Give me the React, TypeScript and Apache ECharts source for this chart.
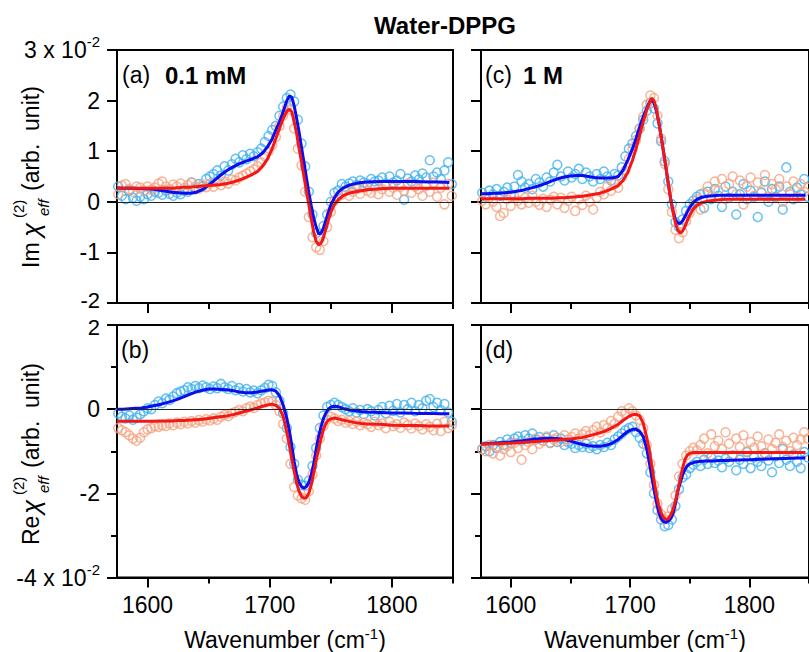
import React, { useEffect, useRef } from "react";
import * as echarts from "echarts";

const FONT = '"Liberation Sans", Arial, Helvetica, sans-serif';

// ---------- data ----------
const TITLE = "Water-DPPG";
const X_MAJOR = [1600, 1700, 1800];
const X_MINOR = [1650, 1750, 1850];

const WN_S = [
  1576, 1579, 1582, 1585, 1588, 1591, 1594, 1597, 1600, 1603,
  1606, 1609, 1612, 1615, 1618, 1621, 1624, 1627, 1630, 1633,
  1636, 1639, 1642, 1645, 1648, 1651, 1654, 1657, 1660, 1663,
  1666, 1669, 1672, 1675, 1678, 1681, 1684, 1687, 1690, 1693,
  1696, 1699, 1702, 1705, 1708, 1711, 1714, 1717, 1720, 1723,
  1726, 1729, 1732, 1735, 1738, 1741, 1744, 1747, 1750, 1753,
  1756, 1759, 1762, 1765, 1768, 1771, 1774, 1777, 1780, 1783,
  1786, 1789, 1792, 1795, 1798, 1801, 1804, 1807, 1810, 1813,
  1816, 1819, 1822, 1825, 1828, 1831, 1834, 1837, 1840, 1843,
  1846, 1849,
];

const WN_L = [
  1575, 1580, 1585, 1590, 1595, 1600, 1605, 1610, 1615, 1620,
  1625, 1630, 1635, 1640, 1645, 1650, 1655, 1660, 1665, 1670,
  1675, 1680, 1685, 1690, 1694, 1698, 1702, 1705, 1708, 1711,
  1714, 1716, 1718, 1720, 1722, 1724, 1726, 1728, 1730, 1732,
  1734, 1736, 1738, 1740, 1742, 1744, 1746, 1748, 1750, 1753,
  1756, 1760, 1765, 1770, 1775, 1780, 1790, 1800, 1810, 1820,
  1830, 1840, 1847,
];

// (a) Im, 0.1 mM
const A_BLUE_PTS = [
  0.30, 0.12, 0.05, 0.22, 0.08, 0.02, 0.10, 0.05, 0.15, 0.12,
  0.20, 0.18, 0.14, 0.22, 0.16, 0.12, 0.18, 0.15, 0.22, 0.20,
  0.38, 0.25, 0.35, 0.30, 0.45, 0.50, 0.55, 0.62, 0.52, 0.70,
  0.62, 0.74, 0.85, 0.78, 0.92, 0.84, 0.95, 0.90, 0.98, 1.05,
  1.18, 1.30, 1.42, 1.50, 1.70, 1.88, 2.05, 2.12, 1.98, 1.62,
  1.15, 0.70, 0.20, -0.25, -0.62, -0.72, -0.48, -0.25, 0.00, 0.18,
  0.22, 0.35, 0.30, 0.36, 0.40, 0.33, 0.42, 0.38, 0.35, 0.45,
  0.40, 0.42, 0.48, 0.36, 0.50, 0.38, 0.42, 0.55, 0.04, 0.46,
  0.40, 0.52, 0.44, 0.56, 0.48, 0.82, 0.50, 0.58, 0.45, 0.62,
  0.78, 0.35,
];
const A_RED_PTS = [
  0.15, 0.32, 0.35, 0.25, 0.20, 0.30, 0.28, 0.22, 0.30, 0.24,
  0.28, 0.36, 0.40, 0.30, 0.25, 0.34, 0.30, 0.36, 0.27, 0.33,
  0.38, 0.30, 0.26, 0.34, 0.29, 0.36, 0.30, 0.38, 0.33, 0.40,
  0.36, 0.44, 0.42, 0.48, 0.52, 0.56, 0.60, 0.64, 0.70, 0.78,
  0.90, 1.00, 1.12, 1.28, 1.50, 1.70, 1.86, 1.82, 1.45, 1.05,
  0.72, 0.20, -0.30, -0.70, -0.90, -0.95, -0.78, -0.50, -0.20, 0.02,
  0.10, 0.14, 0.22, 0.12, 0.20, 0.25, 0.16, 0.28, 0.22, 0.18,
  0.30, 0.15, 0.25, 0.32, 0.20, 0.28, 0.14, 0.30, 0.22, 0.36,
  0.18, 0.30, 0.25, 0.12, 0.32, 0.20, 0.38, 0.10, 0.28, -0.05,
  0.35, 0.12,
];
const A_BLUE_FIT = [
  0.28, 0.27, 0.27, 0.27, 0.26, 0.26, 0.25, 0.23, 0.21, 0.19,
  0.18, 0.17, 0.17, 0.19, 0.24, 0.33, 0.43, 0.53, 0.62, 0.69,
  0.75, 0.80, 0.84, 0.89, 0.96, 1.08, 1.24, 1.42, 1.58, 1.78,
  2.00, 2.09, 2.07, 1.90, 1.65, 1.38, 1.08, 0.78, 0.48, 0.18,
  -0.08, -0.32, -0.50, -0.63, -0.62, -0.52, -0.36, -0.21, -0.06, 0.08,
  0.19, 0.27, 0.33, 0.36, 0.38, 0.39, 0.40, 0.40, 0.40, 0.40,
  0.39, 0.39, 0.38,
];
const A_RED_FIT = [
  0.27, 0.27, 0.27, 0.27, 0.27, 0.27, 0.27, 0.27, 0.27, 0.27,
  0.28, 0.29, 0.29, 0.30, 0.31, 0.32, 0.33, 0.34, 0.36, 0.39,
  0.43, 0.48, 0.53, 0.60, 0.70, 0.84, 1.05, 1.25, 1.45, 1.64,
  1.79, 1.83, 1.78, 1.58, 1.35, 1.06, 0.79, 0.50, 0.22, -0.06,
  -0.34, -0.60, -0.78, -0.85, -0.82, -0.70, -0.53, -0.36, -0.21, -0.05,
  0.04, 0.12, 0.17, 0.20, 0.22, 0.24, 0.26, 0.27, 0.27, 0.27,
  0.27, 0.27, 0.27,
];

// (b) Re, 0.1 mM
const B_BLUE_PTS = [
  -0.10, -0.18, -0.22, -0.15, -0.25, -0.20, -0.12, -0.05, 0.02, 0.00,
  0.10, 0.18, 0.14, 0.25, 0.22, 0.30, 0.38, 0.42, 0.45, 0.52,
  0.48, 0.55, 0.50, 0.56, 0.52, 0.48, 0.54, 0.50, 0.60, 0.52,
  0.48, 0.55, 0.45, 0.50, 0.42, 0.48, 0.40, 0.44, 0.38, 0.45,
  0.50, 0.58, 0.55, 0.40, 0.20, -0.10, -0.45, -0.90, -1.30, -1.68,
  -1.80, -1.82, -1.70, -1.35, -0.92, -0.45, -0.15, 0.05, 0.10, 0.15,
  0.10, 0.05, 0.00, -0.05, 0.02, -0.08, -0.02, -0.12, 0.00, -0.05,
  -0.15, -0.02, 0.05, -0.10, 0.08, -0.04, 0.12, -0.08, 0.10, 0.00,
  0.15, -0.05, 0.10, 0.02, 0.20, 0.24, 0.05, 0.15, -0.02, 0.12,
  -0.08, -0.30,
];
const B_RED_PTS = [
  -0.45, -0.50, -0.55, -0.62, -0.70, -0.75, -0.68, -0.55, -0.48, -0.45,
  -0.40, -0.42, -0.38, -0.40, -0.34, -0.38, -0.32, -0.36, -0.30, -0.34,
  -0.28, -0.32, -0.26, -0.30, -0.24, -0.27, -0.22, -0.25, -0.18, -0.14,
  -0.17, -0.10, -0.06, -0.02, -0.05, 0.02, 0.06, 0.03, 0.10, 0.14,
  0.16, 0.20, 0.18, 0.10, -0.05, -0.35, -0.70, -1.30, -1.85, -2.05,
  -2.12, -2.15, -1.95, -1.55, -1.10, -0.70, -0.40, -0.25, -0.18, -0.22,
  -0.28, -0.25, -0.32, -0.28, -0.35, -0.30, -0.38, -0.32, -0.36, -0.42,
  -0.30, -0.38, -0.34, -0.45, -0.30, -0.40, -0.36, -0.44, -0.32, -0.38,
  -0.46, -0.34, -0.40, -0.48, -0.36, -0.42, -0.50, -0.35, -0.52, -0.30,
  -0.45, -0.38,
];
const B_BLUE_FIT = [
  0.00, 0.00, 0.01, 0.02, 0.03, 0.05, 0.08, 0.11, 0.15, 0.19,
  0.24, 0.30, 0.36, 0.41, 0.45, 0.48, 0.48, 0.47, 0.46, 0.44,
  0.41, 0.39, 0.39, 0.41, 0.43, 0.45, 0.46, 0.43, 0.32, 0.10,
  -0.22, -0.50, -0.85, -1.25, -1.55, -1.74, -1.84, -1.88, -1.84, -1.74,
  -1.55, -1.30, -0.95, -0.65, -0.42, -0.22, -0.09, 0.00, 0.05, 0.07,
  0.06, 0.02, -0.02, -0.04, -0.06, -0.07, -0.08, -0.09, -0.09, -0.10,
  -0.10, -0.11, -0.11,
];
const B_RED_FIT = [
  -0.29, -0.29, -0.29, -0.29, -0.29, -0.29, -0.29, -0.28, -0.28, -0.28,
  -0.27, -0.27, -0.26, -0.25, -0.24, -0.22, -0.20, -0.18, -0.16, -0.13,
  -0.09, -0.05, -0.01, 0.03, 0.07, 0.10, 0.12, 0.09, 0.02, -0.17,
  -0.55, -0.85, -1.18, -1.48, -1.75, -1.95, -2.07, -2.12, -2.10, -2.00,
  -1.80, -1.52, -1.22, -0.95, -0.70, -0.48, -0.34, -0.26, -0.23, -0.21,
  -0.23, -0.26, -0.29, -0.32, -0.34, -0.35, -0.36, -0.38, -0.39, -0.39,
  -0.40, -0.40, -0.40,
];

// (c) Im, 1 M
const C_BLUE_PTS = [
  0.18, 0.10, 0.22, 0.15, 0.25, 0.12, 0.20, 0.28, 0.15, 0.30,
  0.53, 0.40, 0.28, 0.35, 0.25, 0.45, 0.38, 0.30, 0.48, 0.40,
  0.58, 0.73, 0.50, 0.42, 0.60, 0.48, 0.55, 0.65, 0.45, 0.58,
  0.50, 0.40, 0.55, 0.45, 0.60, 0.50, 0.42, 0.55, 0.52, 0.68,
  0.90, 1.05, 1.15, 1.30, 1.45, 1.62, 1.80, 1.95, 1.85, 1.55,
  1.20, 0.80, 0.40, -0.05, -0.40, -0.50, -0.35, -0.18, -0.05, 0.02,
  0.10, 0.15, -0.12, 0.20, 0.05, 0.25, 0.12, -0.10, 0.30, 0.08,
  0.20, -0.25, 0.15, 0.35, 0.05, 0.22, 0.10, -0.30, 0.18, 0.40,
  0.00, 0.25, 0.10, 0.30, -0.15, 0.68, 0.20, 0.05, 0.28, 0.15,
  0.45, 0.10,
];
const C_RED_PTS = [
  0.02, -0.05, 0.08, 0.00, -0.10, -0.28, -0.22, 0.05, -0.08, 0.10,
  0.02, -0.05, 0.08, -0.02, 0.12, 0.00, -0.06, 0.06, -0.10, 0.04,
  0.10, -0.05, 0.08, -0.12, 0.02, 0.10, -0.18, 0.05, -0.06, 0.12,
  0.00, -0.15, 0.08, 0.20, 0.15, 0.30, 0.22, 0.35, 0.28, 0.48,
  0.62, 0.85, 1.05, 1.22, 1.45, 1.68, 1.92, 2.10, 2.05, 1.70,
  1.25, 0.75, 0.25, -0.20, -0.55, -0.72, -0.60, -0.38, -0.22, -0.08,
  0.05, -0.15, 0.18, 0.30, 0.10, 0.40, 0.22, 0.45, 0.05, 0.35,
  0.50, 0.15, 0.42, -0.05, 0.30, 0.48, 0.12, 0.38, 0.20, 0.53,
  0.10, 0.35, 0.25, 0.45, 0.00, 0.30, 0.15, 0.40, 0.08, 0.35,
  0.20, 0.28,
];
const C_BLUE_FIT = [
  0.16, 0.16, 0.17, 0.17, 0.18, 0.19, 0.21, 0.23, 0.26, 0.29,
  0.33, 0.37, 0.42, 0.46, 0.49, 0.51, 0.52, 0.52, 0.50, 0.48,
  0.47, 0.47, 0.47, 0.50, 0.62, 0.82, 1.05, 1.25, 1.48, 1.68,
  1.85, 1.96, 2.01, 1.96, 1.80, 1.58, 1.30, 1.00, 0.68, 0.36,
  0.06, -0.18, -0.35, -0.42, -0.43, -0.38, -0.29, -0.20, -0.11, -0.01,
  0.05, 0.09, 0.11, 0.12, 0.13, 0.13, 0.13, 0.13, 0.13, 0.13,
  0.13, 0.13, 0.13,
];
const C_RED_FIT = [
  0.06, 0.06, 0.06, 0.06, 0.06, 0.06, 0.06, 0.06, 0.07, 0.07,
  0.07, 0.07, 0.07, 0.08, 0.08, 0.09, 0.10, 0.11, 0.13, 0.15,
  0.17, 0.21, 0.26, 0.32, 0.42, 0.58, 0.82, 1.05, 1.32, 1.58,
  1.82, 1.95, 2.05, 2.00, 1.84, 1.58, 1.29, 0.99, 0.69, 0.37,
  0.06, -0.20, -0.42, -0.56, -0.62, -0.58, -0.49, -0.37, -0.27, -0.14,
  -0.07, -0.02, 0.01, 0.03, 0.04, 0.05, 0.05, 0.05, 0.05, 0.05,
  0.05, 0.05, 0.05,
];

// (d) Re, 1 M
const D_BLUE_PTS = [
  -0.95, -0.88, -1.00, -0.85, -0.92, -0.78, -0.85, -0.72, -0.80, -0.70,
  -0.65, -0.75, -0.62, -0.70, -0.58, -0.72, -0.66, -0.75, -0.68, -0.80,
  -0.62, -0.78, -0.70, -0.85, -0.78, -0.82, -0.92, -0.85, -0.90, -0.82,
  -0.92, -0.88, -0.95, -0.85, -0.90, -0.80, -0.85, -0.72, -0.65, -0.58,
  -0.50, -0.45, -0.42, -0.55, -0.68, -0.82, -1.05, -1.50, -2.00, -2.40,
  -2.62, -2.78, -2.75, -2.62, -2.30, -1.90, -1.62, -1.55, -1.40, -1.32,
  -1.25, -1.35, -1.20, -1.30, -1.15, -1.28, -1.22, -1.38, -1.18, -1.25,
  -1.10, -1.45, -1.20, -1.30, -1.02, -1.40, -1.15, -1.25, -1.35, -1.05,
  -1.22, -1.50, -1.12, -1.28, -0.95, -1.20, -1.35, -1.08, -1.25, -1.40,
  -1.02, -1.15,
];
const D_RED_PTS = [
  -0.95, -1.00, -0.85, -1.05, -0.90, -1.10, -0.95, -0.88, -1.02, -0.80,
  -0.92, -1.20, -0.85, -0.78, -0.95, -0.70, -0.82, -0.75, -0.65, -0.80,
  -0.72, -0.68, -0.78, -0.62, -0.72, -0.66, -0.58, -0.70, -0.60, -0.52,
  -0.62, -0.50, -0.42, -0.55, -0.38, -0.45, -0.28, -0.35, -0.18, -0.05,
  -0.10, 0.02, -0.05, -0.15, -0.25, -0.45, -0.85, -1.30, -1.80, -2.25,
  -2.50, -2.62, -2.55, -2.38, -2.05, -1.60, -1.30, -1.10, -1.00, -0.92,
  -0.98, -0.85, -0.70, -1.05, -0.60, -0.88, -0.75, -0.95, -0.55, -0.82,
  -1.10, -0.70, -0.90, -0.62, -1.00, -0.78, -0.92, -0.65, -0.88, -1.05,
  -0.72, -0.95, -0.80, -0.60, -0.90, -0.75, -1.00, -0.68, -0.85, -0.72,
  -0.55, -0.70,
];
const D_BLUE_FIT = [
  -0.83, -0.82, -0.81, -0.80, -0.79, -0.78, -0.76, -0.75, -0.73, -0.71,
  -0.70, -0.69, -0.69, -0.70, -0.72, -0.76, -0.80, -0.84, -0.87, -0.88,
  -0.88, -0.86, -0.81, -0.72, -0.62, -0.53, -0.48, -0.48, -0.53, -0.65,
  -0.95, -1.25, -1.58, -1.90, -2.20, -2.45, -2.60, -2.67, -2.69, -2.66,
  -2.60, -2.48, -2.25, -1.95, -1.75, -1.56, -1.43, -1.35, -1.30, -1.27,
  -1.25, -1.24, -1.23, -1.23, -1.22, -1.22, -1.21, -1.20, -1.19, -1.18,
  -1.17, -1.16, -1.16,
];
const D_RED_FIT = [
  -0.83, -0.83, -0.82, -0.82, -0.81, -0.81, -0.80, -0.79, -0.78, -0.77,
  -0.76, -0.75, -0.74, -0.73, -0.72, -0.71, -0.69, -0.67, -0.64, -0.60,
  -0.56, -0.51, -0.44, -0.36, -0.27, -0.19, -0.13, -0.12, -0.16, -0.33,
  -0.68, -0.95, -1.30, -1.68, -2.02, -2.28, -2.46, -2.57, -2.62, -2.60,
  -2.52, -2.38, -2.18, -1.93, -1.66, -1.40, -1.20, -1.09, -1.05, -1.03,
  -1.03, -1.03, -1.03, -1.03, -1.03, -1.03, -1.03, -1.03, -1.03, -1.03,
  -1.03, -1.03, -1.03,
];

// ---------- styling ----------
const C_LBLUE = "#40b2ef";
const C_SALMON = "#f6a27f";
const C_BLUE = "#0c0cf0";
const C_RED = "#f51616";
const AX = { color: "#000", width: 2 };

const GRIDS = [
  { left: 117, top: 50, width: 336, height: 253 },
  { left: 117, top: 325, width: 336, height: 253 },
  { left: 481, top: 50, width: 336, height: 253 },
  { left: 481, top: 325, width: 336, height: 253 },
];

const tickRich = {
  m: { fontSize: 23, fontFamily: FONT, color: "#000", lineHeight: 32 },
  s: { fontSize: 15, fontFamily: FONT, color: "#000", lineHeight: 15, verticalAlign: "top" },
  up: { fontSize: 22, fontFamily: FONT, color: "#000", lineHeight: 17, padding: [0, 0, 5, 0] },
  dn: { fontSize: 22, fontFamily: FONT, color: "#000", lineHeight: 17, padding: [5, 0, 0, 0] },
};
const nameRich = {
  m: { fontSize: 23, fontFamily: FONT, color: "#000", lineHeight: 28 },
  s: { fontSize: 15, fontFamily: FONT, color: "#000", lineHeight: 15, verticalAlign: "top" },
};

function xAxesFor(gi: number, bottomRow: boolean) {
  return [
    {
      type: "value",
      gridIndex: gi,
      min: 1575,
      max: 1850,
      position: "bottom",
      offset: 0,
      axisLine: { show: true, onZero: false, lineStyle: AX },
      axisTick: { show: true, customValues: X_MAJOR, length: 10, lineStyle: AX },
      axisLabel: {
        show: bottomRow,
        customValues: X_MAJOR,
        margin: 16,
        color: "#000",
        fontSize: 23,
        fontFamily: FONT,
        formatter: (v: number) => String(v),
      },
      splitLine: { show: false },
      name: bottomRow ? "{m|Wavenumber (cm}{s|-1}{m|)}" : "",
      nameLocation: "middle",
      nameGap: 48,
      nameTextStyle: { rich: nameRich, fontSize: 23, fontFamily: FONT, color: "#000" },
    },
    {
      type: "value",
      gridIndex: gi,
      min: 1575,
      max: 1850,
      position: "bottom",
      offset: 0,
      axisLine: { show: false, onZero: false },
      axisTick: { show: true, customValues: X_MINOR, length: 6, lineStyle: AX },
      axisLabel: { show: false },
      splitLine: { show: false },
    },
  ];
}

function yAxisFor(gi: number, isIm: boolean, showLabels: boolean) {
  const base: any = {
    type: "value",
    gridIndex: gi,
    position: "left",
    axisLine: { show: true, onZero: false, lineStyle: AX },
    axisTick: { show: true, length: 10, lineStyle: AX },
    splitLine: { show: false },
    axisLabel: {
      show: showLabels,
      margin: 17,
      color: "#000",
      fontSize: 23,
      lineHeight: 17,
      fontFamily: FONT,
      rich: tickRich,
      formatter: (v: number) => {
        if (isIm && v === 3) return "{m|3 x 10}{s|-2}";
        if (isIm && v === -2) return "{up|-2}";
        if (!isIm && v === 2) return "{dn|2}";
        if (!isIm && v === -4) return "{m|-4 x 10}{s|-2}";
        return String(v);
      },
    },
  };
  if (isIm) {
    base.min = -2;
    base.max = 3;
    base.interval = 1;
  } else {
    base.min = -4;
    base.max = 2;
    base.interval = 2;
    base.minorTick = { show: true, splitNumber: 2, length: 6, lineStyle: AX };
    base.minorSplitLine = { show: false };
  }
  return base;
}

const zip = (xs: number[], ys: number[]) => xs.map((x, i) => [x, ys[i]]);

function panelSeries(gi: number, bluePts: number[], redPts: number[], blueFit: number[], redFit: number[]) {
  const xi = gi * 2;
  const common = { xAxisIndex: xi, yAxisIndex: gi, silent: true };
  const scatter = (data: number[], color: string) => ({
    ...common,
    type: "scatter",
    data: zip(WN_S, data),
    symbol: "circle",
    symbolSize: 9,
    itemStyle: { color: "rgba(0,0,0,0)", borderColor: color, borderWidth: 1.5 },
  });
  const line = (data: number[], color: string) => ({
    ...common,
    type: "line",
    data: zip(WN_L, data),
    showSymbol: false,
    symbol: "none",
    lineStyle: { width: 3, color },
    itemStyle: { color },
  });
  return [
    {
      ...scatter(bluePts, C_LBLUE),
      markLine: {
        silent: true,
        symbol: ["none", "none"],
        label: { show: false },
        lineStyle: { color: "#222", width: 1, type: "solid" },
        data: [{ yAxis: 0 }],
      },
    },
    scatter(redPts, C_SALMON),
    line(blueFit, C_BLUE),
    line(redFit, C_RED),
  ];
}

function txt(text: string, x: number, y: number, size: number, extra: any = {}) {
  return {
    type: "text",
    x,
    y,
    style: {
      text,
      fontSize: size,
      fontFamily: FONT,
      fill: "#000",
      align: "left",
      verticalAlign: "middle",
      textAlign: "left",
      textVerticalAlign: "middle",
      ...extra,
    },
  };
}

function yTitle(cx: number, startY: number, prefix: string) {
  return {
    type: "group",
    x: cx,
    y: startY,
    rotation: Math.PI / 2,
    children: [
      txt(prefix, 0, 0, 23),
      txt("\u03c7", 31, 0, 26, { fontStyle: "italic" }),
      txt("(2)", 50, -12, 15),
      txt("eff", 52, 13, 15, { fontStyle: "italic" }),
      txt("(arb.\u00a0 unit)", 77, 0, 23),
    ],
  };
}

export default function App() {
  const ref = useRef<HTMLDivElement>(null);
  useEffect(() => {
    if (!ref.current) return;
    const chart = echarts.init(ref.current, null, { renderer: "svg" });
    const option: any = {
      animation: false,
      backgroundColor: "#fff",
      grid: GRIDS.map((g) => ({ ...g, show: true, borderColor: "#000", borderWidth: 2, backgroundColor: "transparent" })),
      xAxis: [
        ...xAxesFor(0, false),
        ...xAxesFor(1, true),
        ...xAxesFor(2, false),
        ...xAxesFor(3, true),
      ],
      yAxis: [
        yAxisFor(0, true, true),
        yAxisFor(1, false, true),
        yAxisFor(2, true, false),
        yAxisFor(3, false, false),
      ],
      series: [
        ...panelSeries(0, A_BLUE_PTS, A_RED_PTS, A_BLUE_FIT, A_RED_FIT),
        ...panelSeries(1, B_BLUE_PTS, B_RED_PTS, B_BLUE_FIT, B_RED_FIT),
        ...panelSeries(2, C_BLUE_PTS, C_RED_PTS, C_BLUE_FIT, C_RED_FIT),
        ...panelSeries(3, D_BLUE_PTS, D_RED_PTS, D_BLUE_FIT, D_RED_FIT),
      ],
      graphic: [
        txt(TITLE, 445, 25, 24, { fontWeight: "bold", align: "center", textAlign: "center" }),
        txt("(a)", 122, 75, 23),
        txt("0.1 mM", 165, 75, 24, { fontWeight: "bold" }),
        txt("(c)", 485, 75, 23),
        txt("1 M", 523, 75, 24, { fontWeight: "bold" }),
        txt("(b)", 121, 350, 23),
        txt("(d)", 485, 350, 23),
        yTitle(30.5, 268, "Im"),
        yTitle(30.5, 545, "Re"),
      ],
    };
    chart.setOption(option);
    return () => chart.dispose();
  }, []);
  return (
    <div
      ref={ref}
      style={{ position: "absolute", left: 0, top: 0, width: 809, height: 652, background: "#fff" }}
    />
  );
}
